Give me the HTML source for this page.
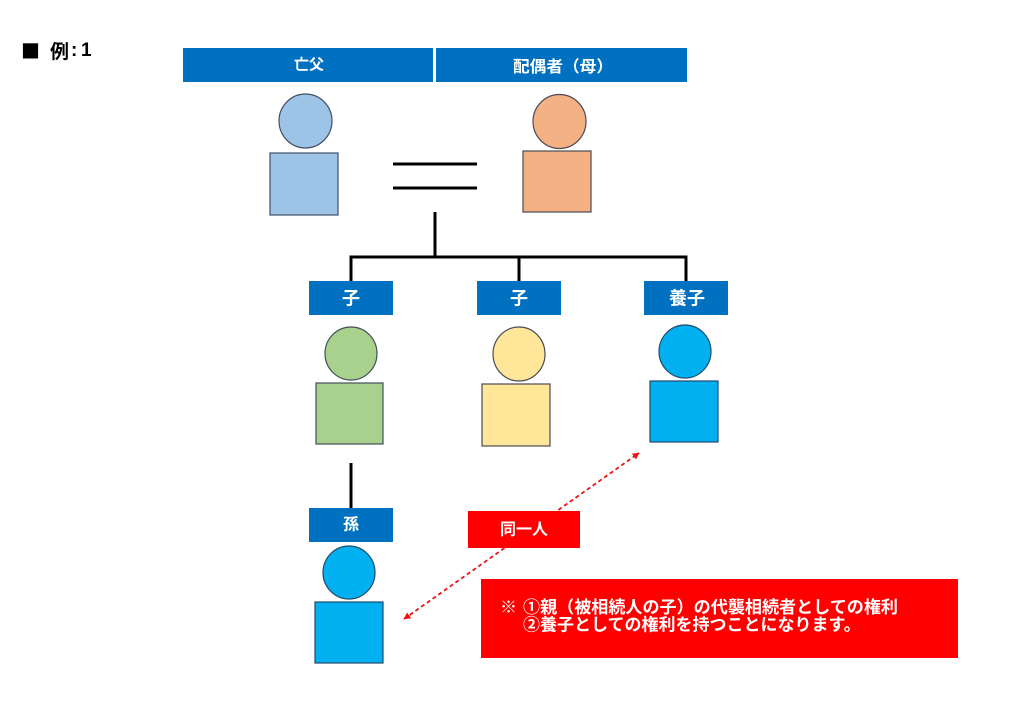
<!DOCTYPE html>
<html>
<head>
<meta charset="utf-8">
<style>
  html,body{margin:0;padding:0;background:#fff;}
  body{width:1024px;height:724px;overflow:hidden;}
  svg{display:block;}
  text{font-family:"Liberation Sans","Noto Sans CJK JP",sans-serif;font-weight:bold;}
  .cjk{font-family:"Noto Sans CJK JP",sans-serif;}
</style>
</head>
<body>
<svg width="1024" height="724" viewBox="0 0 1024 724" xmlns="http://www.w3.org/2000/svg">
  <defs>
    <marker id="ah" viewBox="0 0 10 10" refX="9" refY="5" markerWidth="7" markerHeight="7" orient="auto-start-reverse" markerUnits="userSpaceOnUse">
      <path d="M0,0 L10,5 L0,10 z" fill="#f01010"/>
    </marker>
  </defs>
  <rect width="1024" height="724" fill="#fff"/>

  <!-- Title -->
  <text class="cjk" x="21" y="50.5" font-size="19" fill="#000" dominant-baseline="central">■</text>
  <text class="cjk" x="50" y="50.5" font-size="19" fill="#000" dominant-baseline="central">例</text>
  <text x="71" y="50.5" font-size="19" fill="#000" dominant-baseline="central">:</text>
  <text x="81" y="50.5" font-size="19" fill="#000" dominant-baseline="central">1</text>

  <!-- Top headers -->
  <rect x="183" y="48" width="250" height="34" fill="#0070C0"/>
  <rect x="436" y="48" width="251" height="34" fill="#0070C0"/>
  <text x="309" y="65" font-size="15" fill="#fff" text-anchor="middle" dominant-baseline="central">亡父</text>
  <text class="cjk" x="513" y="65" font-size="16" fill="#fff" dominant-baseline="central" textLength="100" lengthAdjust="spacingAndGlyphs">配偶者（母）</text>

  <!-- Father -->
  <ellipse cx="305.5" cy="121" rx="26.5" ry="27" fill="#9DC3E6" stroke="#3f4f66" stroke-width="1.2"/>
  <rect x="270" y="153" width="68" height="62" fill="#9DC3E6" stroke="#3f4f66" stroke-width="1.2"/>

  <!-- Mother -->
  <ellipse cx="559.5" cy="121.5" rx="26.5" ry="27" fill="#F4B183" stroke="#4a4a55" stroke-width="1.2"/>
  <rect x="523" y="151" width="68" height="61" fill="#F4B183" stroke="#4a4a55" stroke-width="1.2"/>

  <!-- Equals -->
  <rect x="393" y="162.5" width="84" height="3" fill="#000"/>
  <rect x="393" y="186.5" width="84" height="3" fill="#000"/>

  <!-- Tree lines -->
  <rect x="433.5" y="212" width="3" height="46" fill="#000"/>
  <rect x="349.5" y="255.5" width="338" height="3" fill="#000"/>
  <rect x="349.5" y="255.5" width="3" height="26" fill="#000"/>
  <rect x="517.5" y="255.5" width="3" height="26" fill="#000"/>
  <rect x="684.5" y="255.5" width="3" height="26" fill="#000"/>

  <!-- Child headers -->
  <rect x="309" y="281" width="84" height="34" fill="#0070C0"/>
  <rect x="477" y="281" width="84" height="34" fill="#0070C0"/>
  <rect x="644" y="281" width="84" height="34" fill="#0070C0"/>
  <text x="351" y="298.5" font-size="18" fill="#fff" text-anchor="middle" dominant-baseline="central">子</text>
  <text x="519" y="298.5" font-size="18" fill="#fff" text-anchor="middle" dominant-baseline="central">子</text>
  <text x="687" y="298.5" font-size="18" fill="#fff" text-anchor="middle" dominant-baseline="central">養子</text>

  <!-- Green child -->
  <ellipse cx="351" cy="353.5" rx="26" ry="26.5" fill="#A9D18E" stroke="#3f4f55" stroke-width="1.2"/>
  <rect x="316" y="383" width="67" height="61" fill="#A9D18E" stroke="#3f4f55" stroke-width="1.2"/>

  <!-- Yellow child -->
  <ellipse cx="519" cy="354" rx="26" ry="27" fill="#FFE699" stroke="#4a4a55" stroke-width="1.2"/>
  <rect x="482" y="384" width="68" height="62" fill="#FFE699" stroke="#4a4a55" stroke-width="1.2"/>

  <!-- Blue adopted child -->
  <ellipse cx="685" cy="351.5" rx="26" ry="26.5" fill="#00B0F0" stroke="#23486b" stroke-width="1.2"/>
  <rect x="650" y="381" width="68" height="61" fill="#00B0F0" stroke="#23486b" stroke-width="1.2"/>

  <!-- Grandchild line & header -->
  <rect x="349.5" y="463" width="3" height="45" fill="#000"/>
  <rect x="309" y="508" width="84" height="34" fill="#0070C0"/>
  <text x="351" y="525" font-size="16" fill="#fff" text-anchor="middle" dominant-baseline="central">孫</text>

  <!-- Grandchild -->
  <ellipse cx="349" cy="572.5" rx="26" ry="26.5" fill="#00B0F0" stroke="#23486b" stroke-width="1.2"/>
  <rect x="315" y="602" width="68" height="61" fill="#00B0F0" stroke="#23486b" stroke-width="1.2"/>

  <!-- Dashed double arrow -->
  <line x1="404" y1="619" x2="639" y2="453" stroke="#e81515" stroke-width="1.8" stroke-dasharray="4 3" marker-start="url(#ah)" marker-end="url(#ah)"/>

  <!-- 同一人 -->
  <rect x="468" y="511" width="112" height="37" fill="#FF0000"/>
  <text x="524" y="530" font-size="16" fill="#fff" text-anchor="middle" dominant-baseline="central">同一人</text>

  <!-- Note box -->
  <rect x="481" y="579" width="477" height="79" fill="#FF0000"/>
  <text x="500" y="607.5" font-size="17" fill="#fff" dominant-baseline="central">※</text>
  <text x="523" y="607.5" font-size="17" fill="#fff" dominant-baseline="central" textLength="375" lengthAdjust="spacingAndGlyphs">①親（被相続人の子）の代襲相続者としての権利</text>
  <text x="523" y="625" font-size="17" fill="#fff" dominant-baseline="central">②養子としての権利を持つことになります。</text>
</svg>
</body>
</html>
